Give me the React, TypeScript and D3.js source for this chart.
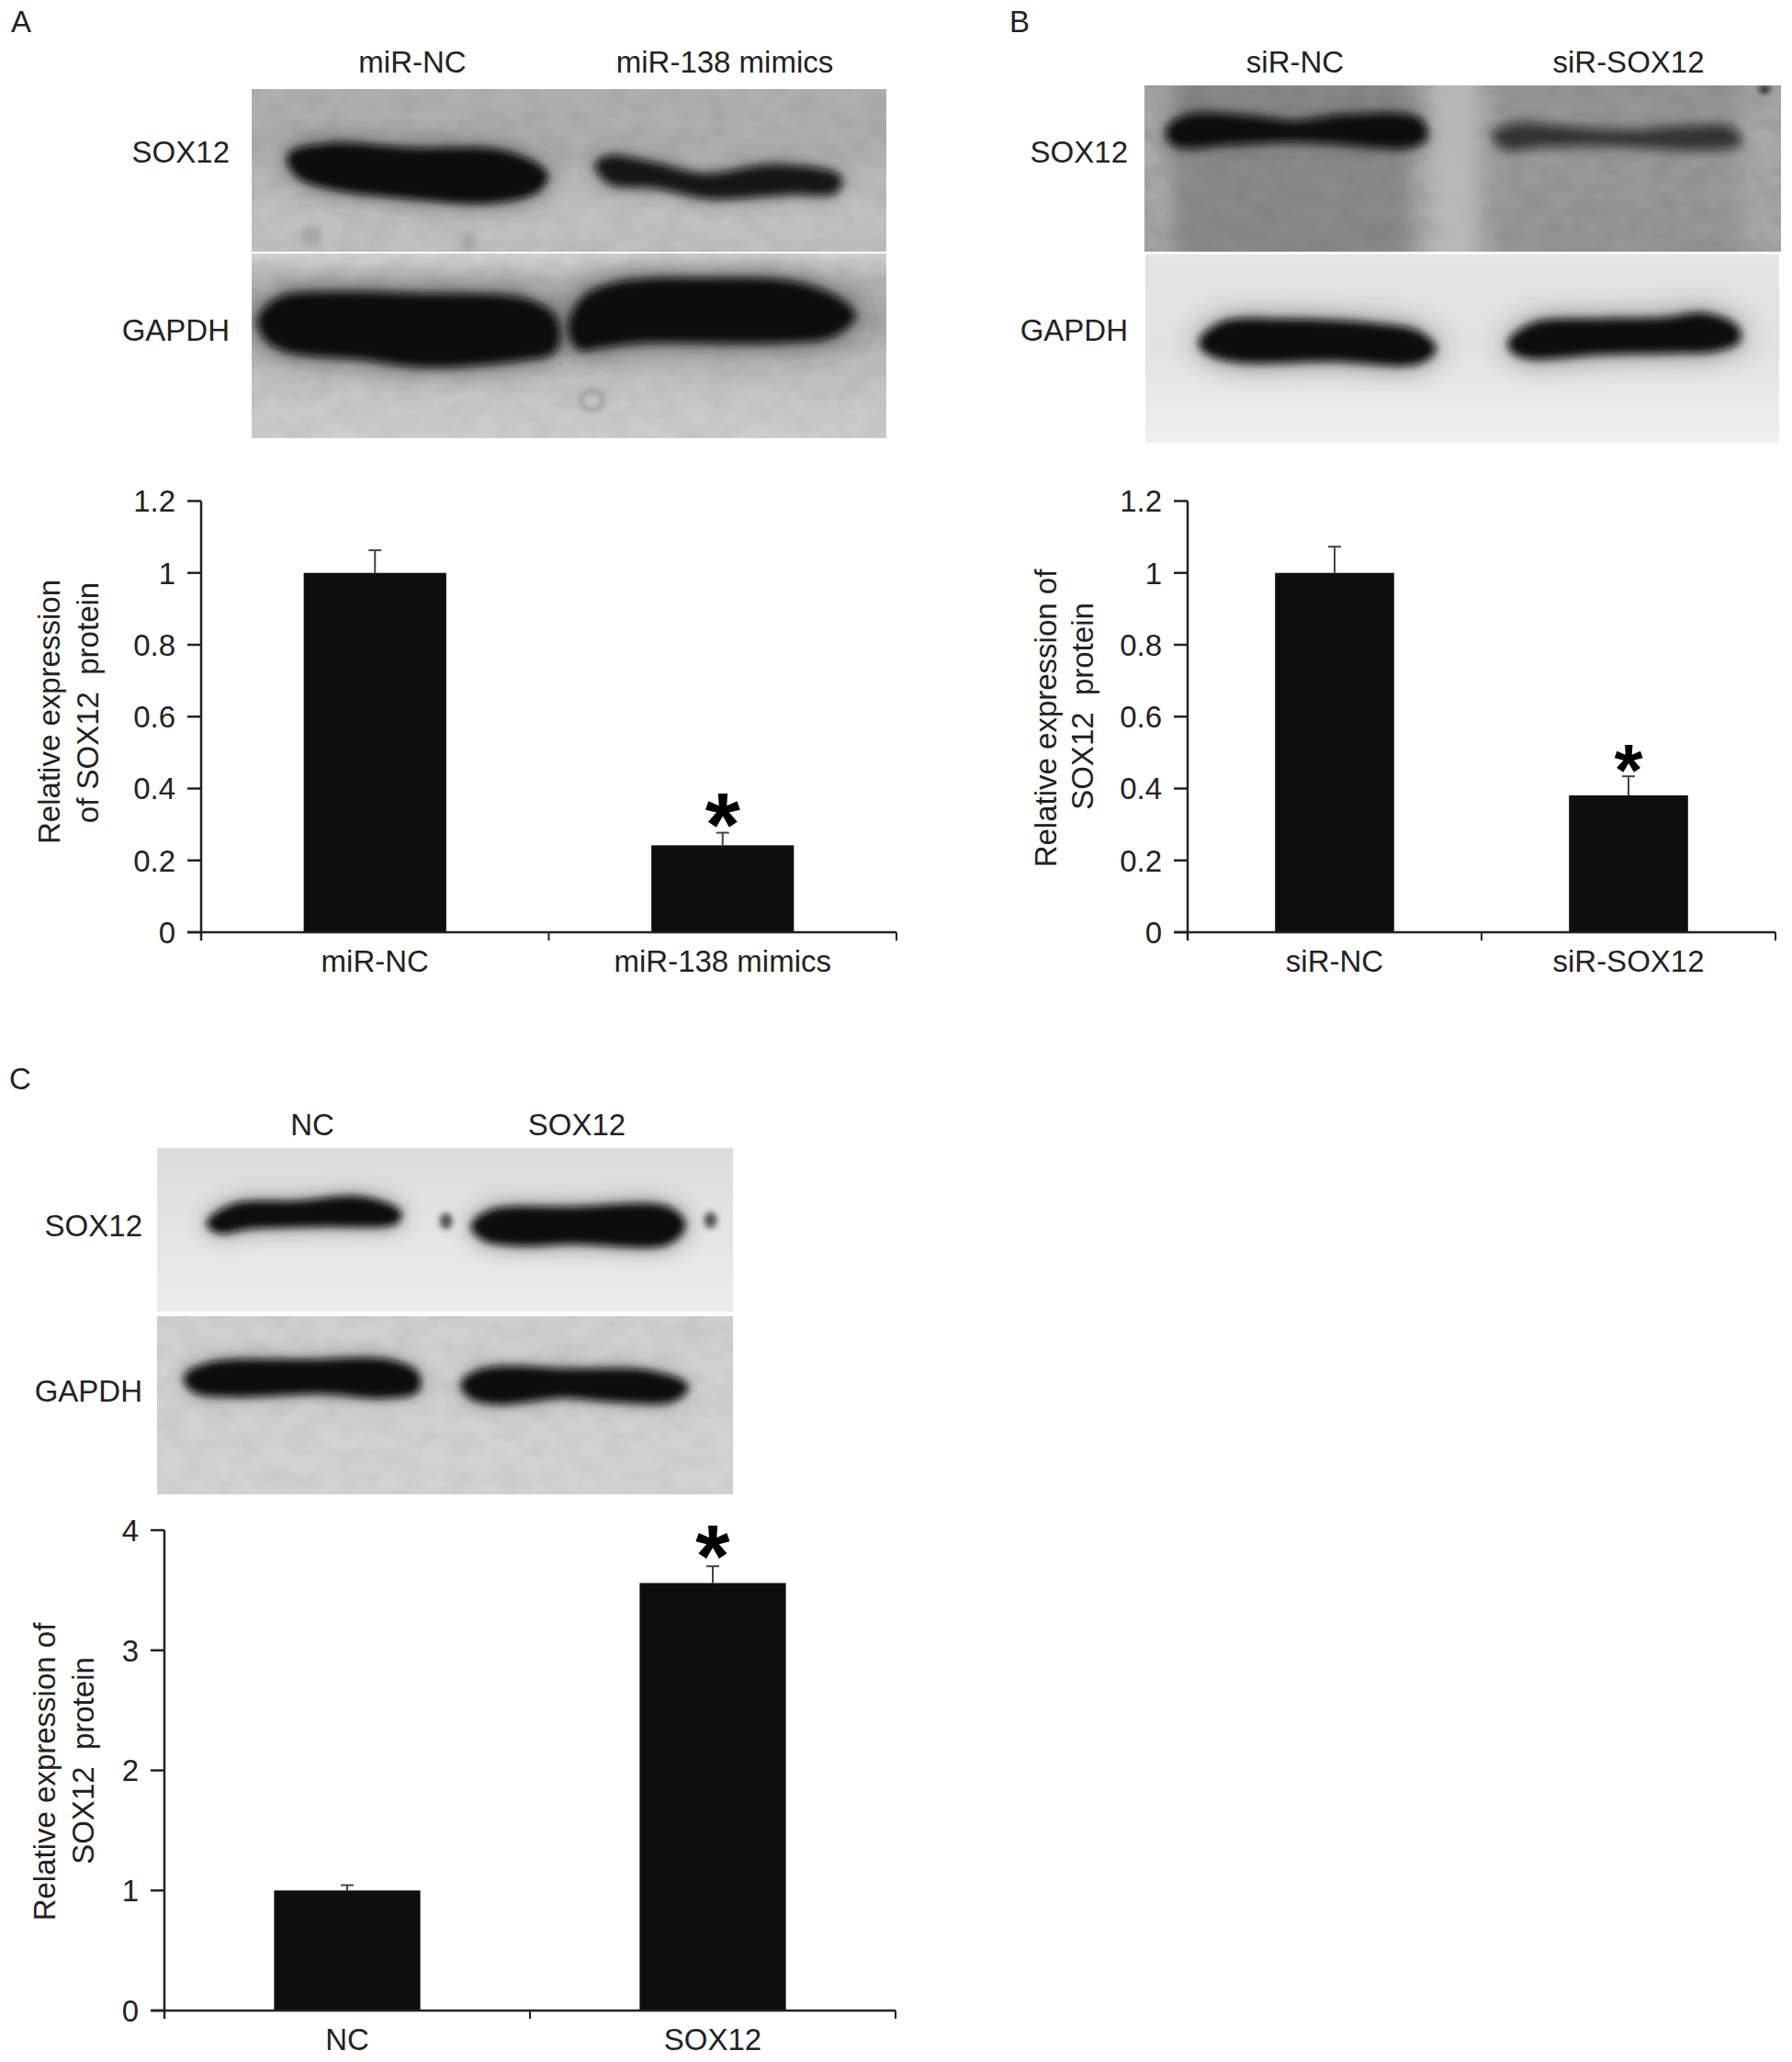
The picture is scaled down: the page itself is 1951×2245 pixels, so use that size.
import React from "react";
import * as d3 from "d3";

type P = [number, number];
const FONT = "'Liberation Sans', Arial, sans-serif";
const INK = "#222";
const FS = 33;

// ---------- bar chart data ----------
const catsA = ["miR-NC", "miR-138 mimics"];
const valsA = [1, 0.242];
const errA = [1.063, 0.277];
const ticksA = [0, 0.2, 0.4, 0.6, 0.8, 1, 1.2];

const catsB = ["siR-NC", "siR-SOX12"];
const valsB = [1, 0.381];
const errB = [1.073, 0.434];
const ticksB = [0, 0.2, 0.4, 0.6, 0.8, 1, 1.2];

const catsC = ["NC", "SOX12"];
const valsC = [1, 3.56];
const errC = [1.044, 3.7];
const ticksC = [0, 1, 2, 3, 4];

// ---------- western blot band outlines (in blot image units) ----------
const bandA1a: P[] = [[495,510],[560,475],[700,490],[860,500],[930,570],[915,620],[830,655],[700,640],[570,610],[510,570]];
const bandA1b: P[] = [[1020,535],[1045,515],[1120,540],[1200,575],[1320,545],[1430,580],[1425,620],[1350,625],[1210,640],[1120,605],[1040,590]];
const bandA2a: P[] = [[445,1040],[480,975],[560,960],[700,965],[900,985],[945,1040],[945,1140],[880,1170],[720,1190],[620,1165],[490,1140],[455,1100]];
const bandA2b: P[] = [[975,1050],[1000,970],[1060,925],[1200,915],[1350,925],[1430,980],[1455,1030],[1420,1090],[1330,1110],[1100,1110],[1030,1125],[990,1135],[975,1090]];
const bandB1a: P[] = [[385,430],[420,385],[550,390],[620,405],[720,385],[860,395],[870,450],[840,475],[700,462],[620,455],[500,465],[400,470]];
const bandB1b: P[] = [[1005,440],[1050,412],[1120,420],[1250,435],[1380,420],[1450,425],[1465,465],[1380,482],[1250,470],[1110,470],[1020,478]];
const bandB2a: P[] = [[450,1120],[490,1060],[600,1050],[780,1065],[860,1090],[890,1140],[860,1180],[700,1172],[520,1175],[465,1150]];
const bandB2b: P[] = [[1035,1120],[1080,1062],[1200,1050],[1330,1045],[1400,1030],[1460,1070],[1465,1110],[1420,1140],[1340,1145],[1200,1150],[1080,1165],[1045,1150]];
const bandC1a: P[] = [[420,545],[470,490],[600,480],[720,465],[800,510],[795,538],[650,548],[500,555],[440,570]];
const bandC1b: P[] = [[950,555],[985,510],[1150,500],[1340,500],[1370,550],[1340,605],[1150,605],[1040,610],[975,595]];
const bandC2a: P[] = [[375,1050],[420,1010],[620,1000],[780,1000],[835,1040],[835,1090],[760,1110],[650,1095],[480,1105],[390,1090]];
const bandC2b: P[] = [[930,1070],[970,1030],[1150,1030],[1300,1035],[1375,1080],[1350,1120],[1220,1120],[1130,1108],[1000,1130],[945,1110]];

const lineGen = d3.line<P>().curve(d3.curveCatmullRomClosed.alpha(0.5));

interface Band { pts: P[]; opacity: number; halo: number; haloOp: number; blur: number }
interface Spot { x: number; y: number; rx: number; ry: number; fill: string; stroke?: string }
interface Lane { x0: number; x1: number; fill: string; op: number }
interface BlotProps {
  id: string;
  box: [number, number, number, number];
  dom: [number, number, number, number];
  stops: [number, string][];
  lanes?: Lane[];
  bands: Band[];
  spots?: Spot[];
  grain?: number;
}

function Blot({ id, box, dom, stops, lanes = [], bands, spots = [], grain = 0.06 }: BlotProps) {
  const [x0, y0, x1, y1] = box;
  const sx = d3.scaleLinear().domain([dom[0], dom[2]]).range([x0, x1]);
  const sy = d3.scaleLinear().domain([dom[1], dom[3]]).range([y0, y1]);
  const path = (pts: P[]) => lineGen(pts.map(([a, b]) => [sx(a), sy(b)] as P)) as string;
  return (
    <g>
      <defs>
        <linearGradient id={`${id}-bg`} x1="0" x2="0" y1="0" y2="1">
          {stops.map(([o, c], i) => <stop key={i} offset={o} stopColor={c} />)}
        </linearGradient>
        <clipPath id={`${id}-clip`}><rect x={x0} y={y0} width={x1 - x0} height={y1 - y0} /></clipPath>
        <filter id={`${id}-lane`} x="-30%" y="-30%" width="160%" height="160%"><feGaussianBlur stdDeviation="9" /></filter>
        <filter id={`${id}-spot`} x="-60%" y="-60%" width="220%" height="220%"><feGaussianBlur stdDeviation="3" /></filter>
        <filter id={`${id}-grain`} x="0" y="0" width="100%" height="100%">
          <feTurbulence type="fractalNoise" baseFrequency="0.035 0.05" numOctaves={3} seed={7} />
          <feColorMatrix type="matrix" values="0 0 0 0 0  0 0 0 0 0  0 0 0 0 0  1.6 0 0 0 -0.5" />
        </filter>
        {bands.map((b, i) => (
          <React.Fragment key={i}>
            <filter id={`${id}-h${i}`} x="-30%" y="-150%" width="160%" height="400%"><feGaussianBlur stdDeviation={b.halo} /></filter>
            <filter id={`${id}-b${i}`} x="-30%" y="-100%" width="160%" height="300%"><feGaussianBlur stdDeviation={b.blur} /></filter>
          </React.Fragment>
        ))}
      </defs>
      <g clipPath={`url(#${id}-clip)`}>
        <rect x={x0} y={y0} width={x1 - x0} height={y1 - y0} fill={`url(#${id}-bg)`} />
        <rect x={x0} y={y0} width={x1 - x0} height={y1 - y0} filter={`url(#${id}-grain)`} opacity={grain} />
        {lanes.map((l, i) => (
          <rect key={i} x={sx(l.x0)} y={y0 - 30} width={sx(l.x1) - sx(l.x0)} height={y1 - y0 + 60} fill={l.fill} opacity={l.op} filter={`url(#${id}-lane)`} />
        ))}
        {spots.map((s, i) => (
          <ellipse key={i} cx={sx(s.x)} cy={sy(s.y)} rx={s.rx} ry={s.ry} fill={s.fill} stroke={s.stroke ?? "none"} strokeWidth={s.stroke ? 3 : 0} filter={`url(#${id}-spot)`} />
        ))}
        {bands.map((b, i) => (
          <path key={`h${i}`} d={path(b.pts)} fill="#333" stroke="#333" strokeWidth={10} opacity={b.haloOp} filter={`url(#${id}-h${i})`} />
        ))}
        {bands.map((b, i) => (
          <path key={`b${i}`} d={path(b.pts)} fill="#0d0d0d" stroke="#0d0d0d" strokeWidth={5} strokeLinejoin="round" opacity={b.opacity} filter={`url(#${id}-b${i})`} />
        ))}
      </g>
    </g>
  );
}

interface TextLine { text: string; x: number; y: number }
interface ChartProps {
  cats: string[]; vals: number[]; errs: number[]; ticks: number[];
  xRange: [number, number]; yRange: [number, number]; domainMax: number;
  padInner: number; labelRight: number; catBaseline: number;
  yTitle: TextLine[]; starIndex: number; starSize: number; starGap: number;
  fs: number;
}

function BarChart({ cats, vals, errs, ticks, xRange, yRange, domainMax, padInner, labelRight, catBaseline, yTitle, starIndex, starSize, starGap, fs }: ChartProps) {
  const x = d3.scaleBand<string>().domain(cats).range(xRange).paddingInner(padInner).paddingOuter(padInner / 2);
  const y = d3.scaleLinear().domain([0, domainMax]).range(yRange);
  const xSplit = (xRange[0] + xRange[1]) / 2;
  const capW = 7;
  return (
    <g fontFamily={FONT} fontSize={fs} fill={INK}>
      {cats.map((c, i) => {
        const cx = (x(c) as number) + x.bandwidth() / 2;
        return (
          <g key={c}>
            <line x1={cx} x2={cx} y1={y(vals[i])} y2={y(errs[i])} stroke="#444" strokeWidth={2} />
            <line x1={cx - capW} x2={cx + capW} y1={y(errs[i])} y2={y(errs[i])} stroke="#444" strokeWidth={2} />
            <rect x={x(c)} y={y(vals[i])} width={x.bandwidth()} height={y(0) - y(vals[i])} fill="#0e0e0e" />
            <text x={cx} y={catBaseline} textAnchor="middle">{c}</text>
            {i === starIndex && (
              <text x={cx} y={y(errs[i]) - starGap + starSize * 0.56} textAnchor="middle" fontSize={starSize} fontWeight="bold" fill="#000">*</text>
            )}
          </g>
        );
      })}
      <line x1={xRange[0]} x2={xRange[0]} y1={y(domainMax)} y2={y(0) + 9} stroke={INK} strokeWidth={2.5} />
      <line x1={xRange[0] - 15} x2={xRange[1]} y1={y(0)} y2={y(0)} stroke={INK} strokeWidth={2.5} />
      {[xSplit, xRange[1]].map((t, i) => (
        <line key={i} x1={t} x2={t} y1={y(0)} y2={y(0) + 9} stroke={INK} strokeWidth={2} />
      ))}
      {ticks.map((t) => (
        <g key={t}>
          <line x1={xRange[0] - 15} x2={xRange[0]} y1={y(t)} y2={y(t)} stroke={INK} strokeWidth={2.5} />
          <text x={labelRight} y={y(t) + fs * 0.36} textAnchor="end">{t}</text>
        </g>
      ))}
      {yTitle.map((l, i) => (
        <text key={i} transform={`translate(${l.x},${l.y}) rotate(-90)`} textAnchor="middle" xmlSpace="preserve">{l.text}</text>
      ))}
    </g>
  );
}

const Label = ({ t, x, y, a = "middle", fs = FS }: { t: string; x: number; y: number; a?: string; fs?: number }) => (
  <text x={x} y={y} textAnchor={a as any} fontFamily={FONT} fontSize={fs} fill={INK}>{t}</text>
);

export default function App() {
  const dark = (pts: P[], opacity = 1, halo = 11, haloOp = 0.55, blur = 5): Band => ({ pts, opacity, halo, haloOp, blur });
  return (
    <svg width={1951} height={2245} viewBox="0 0 1951 2245" style={{ position: "absolute", left: 0, top: 0, background: "#fff" }}>
      {/* Panel A */}
      <Label t="A" x={12} y={35} a="start" />
      <Label t="miR-NC" x={449} y={79} />
      <Label t="miR-138 mimics" x={789} y={79} />
      <Label t="SOX12" x={250} y={177} a="end" />
      <Label t="GAPDH" x={250} y={371} a="end" />
      <Blot id="a1" box={[274, 97, 965, 274]} dom={[430, 290, 1512, 821]}
        stops={[[0, "#b0b0b0"], [0.35, "#aeaeae"], [0.75, "#c2c2c2"], [1, "#c0c0c0"]]}
        bands={[dark(bandA1a, 1, 14, 0.6, 4.5), dark(bandA1b, 0.92, 10, 0.45, 5)]}
        spots={[{ x: 532, y: 770, rx: 11, ry: 11, fill: "#a8a8a8" }, { x: 800, y: 790, rx: 9, ry: 11, fill: "#a8a8a8" }]} />
      <Blot id="a2" box={[274, 276, 965, 477]} dom={[430, 825, 1512, 1432]}
        stops={[[0, "#d4d4d4"], [0.15, "#b4b4b4"], [0.35, "#a6a6a6"], [0.6, "#bcbcbc"], [0.8, "#c8c8c8"], [1, "#cecece"]]}
        bands={[dark(bandA2a, 1, 14, 0.7, 5), dark(bandA2b, 1, 16, 0.7, 5)]}
        spots={[{ x: 1010, y: 1310, rx: 12, ry: 10, fill: "#c4c4c4", stroke: "#777" }]} />

      <BarChart cats={catsA} vals={valsA} errs={errA} ticks={ticksA} xRange={[219, 976]} yRange={[1015, 545.5]} domainMax={1.2}
        padInner={0.59} labelRight={191} catBaseline={1058} starIndex={1} starSize={98} starGap={30} fs={FS}
        yTitle={[{ text: "Relative expression", x: 65, y: 775 }, { text: "of SOX12  protein", x: 107, y: 765 }]} />

      {/* Panel B */}
      <Label t="B" x={1099} y={35} a="start" />
      <Label t="siR-NC" x={1410} y={79} />
      <Label t="siR-SOX12" x={1773} y={79} />
      <Label t="SOX12" x={1228} y={177} a="end" />
      <Label t="GAPDH" x={1228} y={371} a="end" />
      <Blot id="b1" box={[1246, 93, 1939, 274]} dom={[340, 280, 1546, 822]} grain={0.1}
        stops={[[0, "#a4a4a4"], [0.45, "#ababab"], [1, "#a6a6a6"]]}
        lanes={[{ x0: 395, x1: 845, fill: "#6c6c6c", op: 0.5 }, { x0: 1000, x1: 1470, fill: "#7a7a7a", op: 0.35 }, { x0: 880, x1: 970, fill: "#bcbcbc", op: 0.8 }]}
        bands={[dark(bandB1a, 1, 9, 0.45, 5), dark(bandB1b, 0.65, 7, 0.25, 5.5)]}
        spots={[{ x: 1515, y: 293, rx: 6, ry: 4, fill: "#111" }]} />
      <Blot id="b2" box={[1247, 277, 1937, 482]} dom={[345, 832, 1543, 1445]} grain={0}
        stops={[[0, "#e4e4e4"], [0.5, "#e2e2e2"], [1, "#f0f0f0"]]}
        bands={[dark(bandB2a, 1, 16, 0.55, 5), dark(bandB2b, 1, 16, 0.55, 5)]} />

      <BarChart cats={catsB} vals={valsB} errs={errB} ticks={ticksB} xRange={[1293, 1933]} yRange={[1015, 545.5]} domainMax={1.2}
        padInner={0.595} labelRight={1265} catBaseline={1058} starIndex={1} starSize={80} starGap={24} fs={FS}
        yTitle={[{ text: "Relative expression of", x: 1150, y: 782 }, { text: "SOX12  protein", x: 1190, y: 769 }]} />

      {/* Panel C */}
      <Label t="C" x={10} y={1186} a="start" />
      <Label t="NC" x={340} y={1236} />
      <Label t="SOX12" x={628} y={1236} />
      <Label t="SOX12" x={155} y={1346} a="end" />
      <Label t="GAPDH" x={155} y={1526} a="end" />
      <Blot id="c1" box={[171, 1250, 798, 1428]} dom={[316, 300, 1470, 833]} grain={0}
        stops={[[0, "#dcdcdc"], [0.5, "#e4e4e4"], [1, "#ececec"]]}
        bands={[dark(bandC1a, 1, 12, 0.45, 4.5), dark(bandC1b, 1, 12, 0.5, 4.5)]}
        spots={[{ x: 895, y: 538, rx: 7, ry: 9, fill: "#555" }, { x: 1425, y: 535, rx: 7, ry: 9, fill: "#555" }]} />
      <Blot id="c2" box={[171, 1433, 798, 1627]} dom={[316, 850, 1470, 1432]} grain={0.05}
        stops={[[0, "#d0d0d0"], [1, "#d4d4d4"]]}
        bands={[dark(bandC2a, 1, 10, 0.4, 4.5), dark(bandC2b, 1, 10, 0.4, 4.5)]} />

      <BarChart cats={catsC} vals={valsC} errs={errC} ticks={ticksC} xRange={[179, 975]} yRange={[2189, 1666]} domainMax={4}
        padInner={0.6} labelRight={151} catBaseline={2232} starIndex={1} starSize={96} starGap={32} fs={FS}
        yTitle={[{ text: "Relative expression of", x: 60, y: 1929 }, { text: "SOX12  protein", x: 102, y: 1917 }]} />
    </svg>
  );
}
